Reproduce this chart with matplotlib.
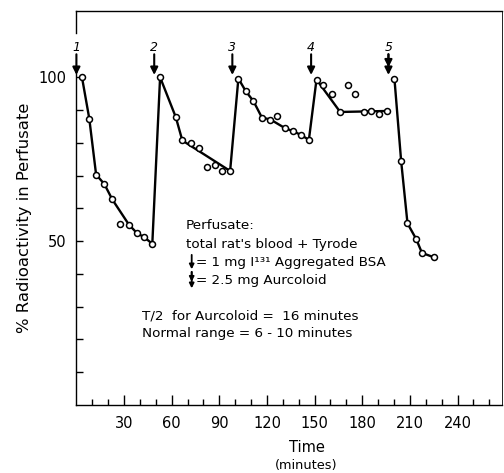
import matplotlib
matplotlib.use("Agg")
import matplotlib.pyplot as plt
from matplotlib.ticker import FixedLocator

plt.rcParams['font.family'] = ['DejaVu Sans']

# observed points (time in minutes, % radioactivity)
obs_t = [3.5, 8.1, 12.4, 17.6, 22.6, 27.7, 33.1, 38.0, 42.6, 47.8,
         52.7, 62.6, 66.7, 72.0, 77.4, 82.3, 87.5, 91.9, 96.8,
         102.0, 106.7, 111.5, 116.8, 122.2, 126.6, 131.6, 136.7, 141.7, 146.4,
         151.2, 155.6, 161.0, 166.1, 171.1, 175.7, 181.2, 185.8, 190.5, 195.5,
         200.3, 204.5, 208.5, 214.0, 217.6, 224.9]
obs_v = [100, 87.4, 70.3, 67.4, 62.7, 55.3, 55.0, 52.5, 51.2, 49.2,
         100, 87.8, 80.7, 80.0, 78.3, 72.6, 73.2, 71.4, 71.4,
         99.6, 95.7, 92.7, 87.7, 87.1, 88.1, 84.4, 83.5, 82.3, 80.9,
         99.3, 97.5, 94.9, 89.4, 97.5, 94.8, 89.4, 89.7, 88.7, 89.7,
         99.4, 74.4, 55.4, 50.6, 46.4, 45.1]

# drawn curve (injections 1-4)
line1_t = [3.5, 8.1, 12.4, 17.6, 22.6, 33.1, 38.0, 42.6, 47.8,
           52.7, 62.6, 66.7, 96.8,
           102.0, 106.7, 111.5, 116.8, 122.2, 131.6, 136.7, 141.7, 146.4,
           151.2, 166.1, 195.5]
line1_v = [100, 87.4, 70.3, 67.4, 62.7, 55.0, 52.5, 51.2, 49.2,
           100, 87.8, 80.7, 71.4,
           99.6, 95.7, 92.7, 87.7, 87.1, 84.4, 83.5, 82.3, 80.9,
           99.3, 89.4, 89.7]
# drawn curve after Aurcoloid (injection 5)
line2_t = [200.3, 204.5, 208.5, 214.0, 217.6, 224.9]
line2_v = [99.4, 74.4, 55.4, 50.6, 46.4, 45.1]

# injections
inj_t = [0, 49, 98.2, 147.8, 196.5]
inj_labels = ['1', '2', '3', '4', '5']

xticks = [30, 60, 90, 120, 150, 180, 210, 240]
xminor = [10, 20, 40, 50, 70, 80, 100, 110, 130, 140, 160, 170,
          190, 200, 220, 230, 250, 260]
yticks = [50, 100]
yminor = [10, 20, 30, 40, 60, 70, 80, 90]

fig = plt.figure(figsize=(5.04, 4.73), dpi=100)
ax = fig.add_axes([0.1516, 0.1438, 0.8444, 0.8329])
ax.set_xlim(0, 268)
ax.set_ylim(0, 120.2)

ax.plot(line1_t, line1_v, color='black', lw=1.7, zorder=2)
ax.plot(line2_t, line2_v, color='black', lw=1.7, zorder=2)
ax.plot(obs_t, obs_v, linestyle='none', marker='o', ms=4.3, mfc='white',
        mec='black', mew=1.1, zorder=3)

arrow_kw = dict(arrowstyle='-|>', color='black', lw=1.5,
                mutation_scale=11, shrinkA=0, shrinkB=0)
for i, (t, lab) in enumerate(zip(inj_t, inj_labels)):
    ax.annotate('', xy=(t, 100.7), xytext=(t, 107.0), arrowprops=arrow_kw,
                annotation_clip=False)
    if i == 4:
        ax.annotate('', xy=(t, 103.0), xytext=(t, 107.0), arrowprops=arrow_kw,
                    annotation_clip=False)
    ax.text(t, 109.2, lab, ha='center', va='center', fontsize=9,
            style='italic')

# text block
fs = 9.7
ax.text(69, 54.9, 'Perfusate:', fontsize=fs, va='center', ha='left')
ax.text(69, 49.1, "total rat's blood + Tyrode", fontsize=fs, va='center', ha='left')
ax.text(75.0, 43.6, '= 1 mg I\u00b9\u00b3\u00b9 Aggregated BSA', fontsize=fs,
        va='center', ha='left')
ax.text(75.0, 38.1, '= 2.5 mg Aurcoloid', fontsize=fs, va='center', ha='left')
small_kw = dict(arrowstyle='-|>', color='black', lw=1.3,
                mutation_scale=7, shrinkA=0, shrinkB=0)
ax.annotate('', xy=(72.6, 41.4), xytext=(72.6, 45.8), arrowprops=small_kw)
ax.annotate('', xy=(72.6, 35.6), xytext=(72.6, 40.6), arrowprops=small_kw)
ax.annotate('', xy=(72.6, 37.6), xytext=(72.6, 40.6), arrowprops=small_kw)
ax.text(41.3, 27.1, 'T/2  for Aurcoloid =  16 minutes', fontsize=fs,
        va='center', ha='left')
ax.text(41.3, 21.9, 'Normal range = 6 - 10 minutes', fontsize=fs,
        va='center', ha='left')

# axes styling
ax.xaxis.set_major_locator(FixedLocator(xticks))
ax.xaxis.set_minor_locator(FixedLocator(xminor))
ax.yaxis.set_major_locator(FixedLocator(yticks))
ax.yaxis.set_minor_locator(FixedLocator(yminor))
ax.tick_params(axis='both', which='both', direction='in', width=1.0)
ax.tick_params(axis='x', which='major', length=7, labelsize=10.5, pad=8)
ax.tick_params(axis='x', which='minor', length=4)
ax.tick_params(axis='y', which='major', length=5, labelsize=10.5, pad=7)
ax.tick_params(axis='y', which='minor', length=5)
ax.tick_params(top=False, right=False, which='both')
for s in ax.spines.values():
    s.set_linewidth(1.0)
ax.spines['right'].set_linewidth(0.6)
ax.spines['left'].set_bounds(0, 101.5)
ax.plot([0, 0], [113.5, 120.2], color='black', lw=1.0, clip_on=False)

fig.text(0.0496, 0.540, '% Radioactivity in Perfusate', rotation=90,
         ha='center', va='center', fontsize=11.8)
fig.text(0.6085, 0.0530, 'Time', ha='center', va='center', fontsize=10.5)
fig.text(0.6085, 0.0160, '(minutes)', ha='center', va='center', fontsize=9.3)

fig.savefig('out.png', dpi=100)
